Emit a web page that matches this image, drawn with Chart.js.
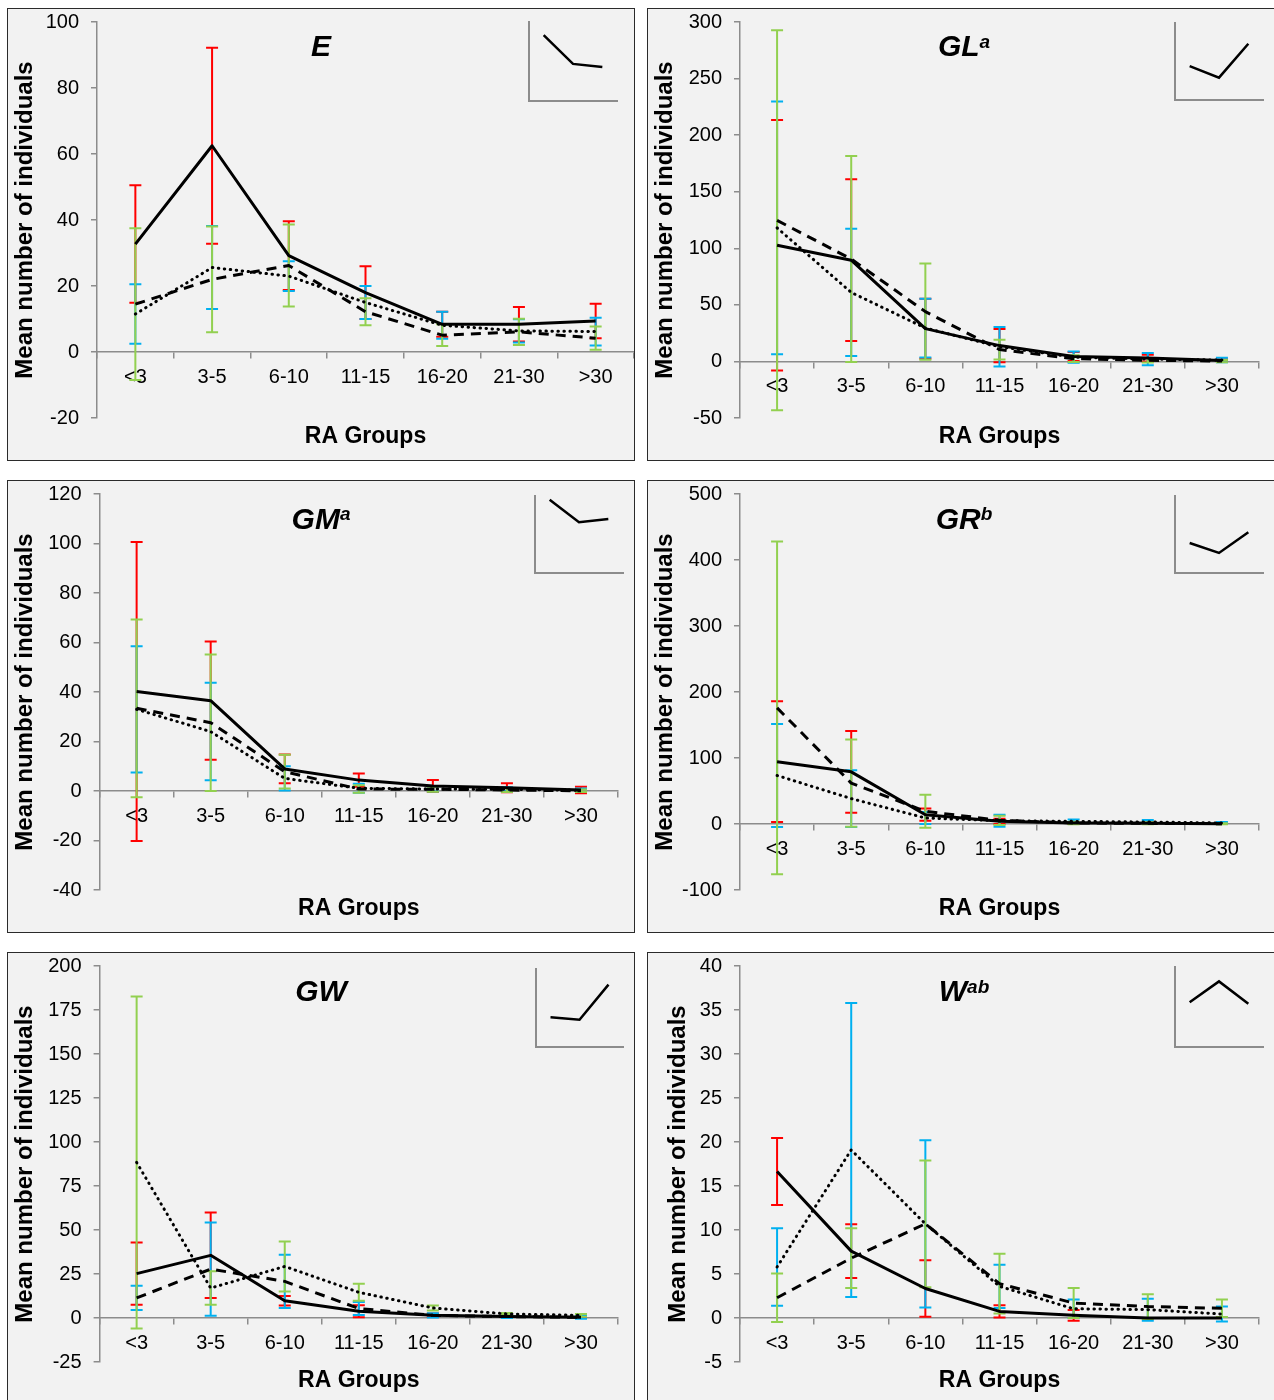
<!DOCTYPE html>
<html>
<head>
<meta charset="utf-8">
<title>Mean number of individuals by RA group</title>
<script src="https://cdn.jsdelivr.net/npm/chart.js@4.4.0/dist/chart.umd.min.js"></script>
<style>
  html, body { margin: 0; padding: 0; background: #fff; }
  body { width: 1274px; height: 1400px; overflow: hidden; position: relative; }
  .panel { position: absolute; box-sizing: border-box; border: 1px solid #2b2b2b; background: #f2f2f2; }
  .panel canvas { position: absolute; }
  .ttl { position: absolute; left: 0; width: 100%; text-align: center; color: #000; white-space: nowrap;
         font: italic bold 30px "Liberation Sans", Arial, sans-serif; line-height: 30px; }
  .ttl span { font-size: 19px; position: relative; top: -8.5px; }
</style>
</head>
<body>
<script>
const FONT = '"Liberation Sans", Arial, sans-serif';
const TICK_SIZE = 20;

const raGroups = ['<3', '3-5', '6-10', '11-15', '16-20', '21-30', '>30'];

// E
const eSolid = [32.7, 62.5, 29.2, 18.0, 8.4, 8.4, 9.4];
const eSolidErr = [17.8, 29.7, 10.4, 8.0, 3.8, 5.2, 5.2];
const eDashed = [14.5, 22.0, 26.2, 12.2, 5.1, 6.1, 4.2];
const eDashedErr = [23.0, 16.0, 12.4, 4.1, 3.3, 4.0, 3.5];
const eDotted = [11.5, 25.6, 23.0, 15.0, 8.1, 6.4, 6.2];
const eDottedErr = [9.0, 12.6, 4.5, 5.0, 4.1, 3.5, 4.2];
const eTicks = [-20, 100, 20];
const trendE = [0.835, 0.47, 0.43];

// GL
const glSolid = [102.7, 89.5, 29.0, 14.0, 4.4, 3.0, 0.9];
const glSolidErr = [110.7, 71.5, 26.5, 14.7, 4.0, 3.0, 1.0];
const glDashed = [124.7, 90.5, 44.0, 10.5, 2.4, 1.0, 0.3];
const glDashedErr = [167.9, 91.0, 42.5, 8.7, 3.0, 2.0, 1.0];
const glDotted = [118.0, 61.0, 29.5, 13.0, 3.8, 2.0, 1.2];
const glDottedErr = [111.7, 56.2, 26.0, 17.4, 5.0, 5.4, 2.0];
const glTicks = [-50, 300, 50];
const trendGL = [0.44, 0.29, 0.73];

// GM
const gmSolid = [40.2, 36.5, 8.9, 4.4, 2.0, 1.3, 0.4];
const gmSolidErr = [60.4, 23.9, 5.8, 2.7, 2.4, 1.8, 1.3];
const gmDashed = [33.4, 27.6, 7.8, 0.8, 0.7, 0.4, 0.1];
const gmDashedErr = [35.9, 27.6, 6.8, 1.5, 1.0, 0.8, 0.5];
const gmDotted = [33.0, 24.0, 5.1, 1.1, 0.8, 0.7, 0.3];
const gmDottedErr = [25.5, 19.7, 4.9, 1.8, 1.0, 0.8, 0.7];
const gmTicks = [-40, 120, 20];
const trendGM = [0.95, 0.66, 0.70];

// GR
const grSolid = [94.4, 79.0, 14.1, 4.0, 1.5, 1.0, 0.5];
const grSolidErr = [91.5, 62.0, 9.3, 4.0, 1.5, 1.0, 0.5];
const grDashed = [176.0, 62.0, 19.2, 5.6, 1.5, 1.0, 0.5];
const grDashedErr = [252.0, 66.0, 25.0, 7.0, 2.0, 1.5, 0.8];
const grDotted = [73.5, 38.5, 9.1, 5.0, 4.0, 3.0, 1.5];
const grDottedErr = [78.0, 43.0, 9.0, 9.0, 3.0, 3.0, 1.5];
const grTicks = [-100, 500, 100];
const trendGR = [0.39, 0.26, 0.53];

// GW
const gwSolid = [25.2, 35.6, 9.8, 3.8, 1.5, 0.8, 0.4];
const gwSolidErr = [17.7, 24.3, 2.7, 3.4, 1.0, 0.6, 0.4];
const gwDashed = [11.4, 27.8, 20.8, 5.4, 1.5, 0.8, 0.4];
const gwDashedErr = [6.9, 26.5, 15.1, 3.7, 1.2, 0.8, 0.8];
const gwDotted = [88.4, 17.0, 29.3, 14.6, 5.7, 2.3, 1.5];
const gwDottedErr = [94.3, 9.5, 14.2, 4.8, 1.4, 0.6, 0.8];
const gwTicks = [-25, 200, 25];
const trendGW = [0.38, 0.35, 0.80];

// W
const wSolid = [16.65, 7.6, 3.35, 0.75, 0.3, 0.0, 0.0];
const wSolidErr = [3.8, 3.05, 3.2, 0.7, 0.6, 0.0, 0.0];
const wDashed = [2.3, 6.8, 10.7, 3.9, 1.7, 1.3, 1.1];
const wDashedErr = [2.75, 3.4, 7.2, 3.4, 1.7, 1.4, 1.0];
const wDotted = [5.8, 19.1, 10.7, 3.6, 1.05, 0.95, 0.45];
const wDottedErr = [4.4, 16.7, 9.5, 2.45, 1.05, 1.25, 0.85];
const wTicks = [-5, 40, 5];
const trendW = [0.56, 0.82, 0.54];

const RED = '#ff0000';
const BLUE = '#00b0f0';
const GREEN = '#92d050';
const AXIS = '#8c8c8c';
const ERR_ORDER = [RED, BLUE, GREEN];

const lineStyles = {
  solid: { borderDash: [], borderCapStyle: 'butt' },
  dashed: { borderDash: [10, 7], borderCapStyle: 'butt' },
  dotted: { borderDash: [0.5, 5.5], borderCapStyle: 'round' },
};

function trio(solid, solidErr, dashed, dashedErr, dotted, dottedErr, dashedColor, dottedColor) {
  return [
    { values: solid, errors: solidErr, errColor: RED, style: 'solid' },
    { values: dashed, errors: dashedErr, errColor: dashedColor, style: 'dashed' },
    { values: dotted, errors: dottedErr, errColor: dottedColor, style: 'dotted' },
  ];
}

// box / plot / inset are [x0, y0, x1, y1] page coordinates
const panels = [
  { title: 'E', sup: '', box: [7, 8, 634, 460], plot: [97, 22, 634, 418], titleY: 45.8, xTitleY: 437, yTitleX: 25.5,
    ticks: eTicks, inset: [529, 22, 617, 101], trend: trendE,
    series: trio(eSolid, eSolidErr, eDashed, eDashedErr, eDotted, eDottedErr, GREEN, BLUE) },
  { title: 'GL', sup: 'a', box: [647, 8, 1280, 460], plot: [740, 22, 1259, 418], titleY: 46, xTitleY: 437, yTitleX: 665.7,
    ticks: glTicks, inset: [1175, 23, 1263, 100], trend: trendGL,
    series: trio(glSolid, glSolidErr, glDashed, glDashedErr, glDotted, glDottedErr, GREEN, BLUE) },
  { title: 'GM', sup: 'a', box: [7, 480, 634, 932], plot: [99.6, 494, 618, 890], titleY: 518.5, xTitleY: 909, yTitleX: 25.5,
    ticks: gmTicks, inset: [535, 496, 623, 573], trend: trendGM,
    series: trio(gmSolid, gmSolidErr, gmDashed, gmDashedErr, gmDotted, gmDottedErr, GREEN, BLUE) },
  { title: 'GR', sup: 'b', box: [647, 480, 1280, 932], plot: [740, 494, 1259, 890], titleY: 518.5, xTitleY: 909, yTitleX: 665.7,
    ticks: grTicks, inset: [1175, 496, 1263, 573], trend: trendGR,
    series: trio(grSolid, grSolidErr, grDashed, grDashedErr, grDotted, grDottedErr, GREEN, BLUE) },
  { title: 'GW', sup: '', box: [7, 952, 634, 1404], plot: [99.6, 966, 618, 1362], titleY: 991, xTitleY: 1381, yTitleX: 25.5,
    ticks: gwTicks, inset: [535.5, 969, 623, 1047], trend: trendGW,
    series: trio(gwSolid, gwSolidErr, gwDashed, gwDashedErr, gwDotted, gwDottedErr, BLUE, GREEN) },
  { title: 'W', sup: 'ab', box: [647, 952, 1280, 1404], plot: [740, 966, 1259, 1362], titleY: 991, xTitleY: 1381, yTitleX: 678,
    ticks: wTicks, inset: [1175, 967, 1263, 1047], trend: trendW,
    series: trio(wSolid, wSolidErr, wDashed, wDashedErr, wDotted, wDottedErr, GREEN, BLUE) },
];

// vertical error bars with caps, drawn under the lines
const errorBars = {
  id: 'errorBars',
  beforeDatasetsDraw(chart) {
    const { ctx } = chart;
    const x = chart.scales.x;
    const y = chart.scales.y;
    const sets = chart.data.datasets.slice()
      .sort((a, b) => ERR_ORDER.indexOf(a.errColor) - ERR_ORDER.indexOf(b.errColor));
    ctx.save();
    ctx.lineWidth = 2;
    sets.forEach((ds) => {
      ctx.strokeStyle = ds.errColor;
      ds.data.forEach((v, i) => {
        const e = ds.errors[i];
        if (!e) return;
        const px = x.getPixelForValue(i);
        const top = y.getPixelForValue(v + e);
        const bot = y.getPixelForValue(v - e);
        ctx.beginPath();
        ctx.moveTo(px, top);
        ctx.lineTo(px, bot);
        ctx.moveTo(px - 6, top);
        ctx.lineTo(px + 6, top);
        ctx.moveTo(px - 6, bot);
        ctx.lineTo(px + 6, bot);
        ctx.stroke();
      });
    });
    ctx.restore();
  },
};

function makeCanvas(parent, left, top, w, h) {
  const c = document.createElement('canvas');
  c.width = w;
  c.height = h;
  c.style.left = left + 'px';
  c.style.top = top + 'px';
  c.style.width = w + 'px';
  c.style.height = h + 'px';
  parent.appendChild(c);
  return c;
}

function buildPanel(p) {
  const [bx0, by0, bx1, by1] = p.box;
  const w = bx1 - bx0 + 1;
  const h = by1 - by0 + 1;
  const el = document.createElement('div');
  el.className = 'panel';
  el.style.left = bx0 + 'px';
  el.style.top = by0 + 'px';
  el.style.width = w + 'px';
  el.style.height = h + 'px';
  document.body.appendChild(el);

  const ox = bx0 + 1;
  const oy = by0 + 1;
  const cw = w - 2;
  const ch = h - 2;
  const left = p.plot[0] - ox;
  const top = p.plot[1] - oy;
  const right = p.plot[2] - ox;
  const bottom = p.plot[3] - oy;
  const xTitleSize = 23;
  const xTitleLine = xTitleSize * 1.2;
  const xTitlePadTop = (p.xTitleY - oy) - bottom - xTitleLine / 2;
  const xTitlePadBottom = ch - bottom - xTitleLine - xTitlePadTop;

  const canvas = makeCanvas(el, 0, 0, cw, ch);
  new Chart(canvas, {
    type: 'line',
    data: {
      labels: raGroups,
      datasets: p.series.map((s) => ({
        data: s.values,
        errors: s.errors,
        errColor: s.errColor,
        borderColor: '#000',
        borderWidth: 3,
        borderJoinStyle: 'round',
        ...lineStyles[s.style],
        pointRadius: 0,
        pointHoverRadius: 0,
        tension: 0,
        fill: false,
      })),
    },
    options: {
      responsive: false,
      animation: false,
      devicePixelRatio: 1,
      events: [],
      layout: { padding: { left: 0, top: top, right: cw - right, bottom: 0 } },
      plugins: {
        legend: { display: false },
        tooltip: { enabled: false },
        title: {
          display: true,
          position: 'bottom',
          fullSize: false,
          text: 'RA Groups',
          color: '#000',
          font: { family: FONT, size: xTitleSize, weight: 'bold', lineHeight: 1.2 },
          padding: { top: xTitlePadTop, bottom: xTitlePadBottom },
        },
      },
      scales: {
        x: {
          type: 'category',
          position: { y: 0 },
          offset: true,
          grid: { offset: true, drawOnChartArea: false, drawTicks: true, tickLength: 6, color: AXIS, lineWidth: 1.5 },
          border: { display: true, color: AXIS, width: 1.5 },
          ticks: { color: '#000', font: { family: FONT, size: TICK_SIZE }, padding: 7, autoSkip: false, maxRotation: 0 },
        },
        y: {
          min: p.ticks[0],
          max: p.ticks[1],
          ticks: { stepSize: p.ticks[2], color: '#000', font: { family: FONT, size: TICK_SIZE }, padding: 12 },
          grid: { drawOnChartArea: false, drawTicks: true, tickLength: 6, color: AXIS, lineWidth: 1.5 },
          border: { display: true, color: AXIS, width: 1.5 },
          title: {
            display: true,
            text: 'Mean number of individuals',
            color: '#000',
            font: { family: FONT, size: 24, weight: 'bold', lineHeight: 1.2 },
            padding: { top: (p.yTitleX - ox) - 14.4, bottom: 0 },
          },
          // fixed axis column; the end labels may hang over the plot edges
          afterFit: (scale) => {
            scale.width = left;
            scale.paddingTop = 0;
            scale.paddingBottom = 0;
          },
        },
      },
    },
    plugins: [errorBars],
  });

  // small trend sketch in the top right corner
  const [ix0, iy0, ix1, iy1] = p.inset;
  const m = 3;
  const inset = makeCanvas(el, ix0 - ox - m, iy0 - oy - m, ix1 - ix0 + 2 * m, iy1 - iy0 + 2 * m);
  new Chart(inset, {
    type: 'line',
    data: {
      labels: ['', '', ''],
      datasets: [{ data: p.trend, borderColor: '#000', borderWidth: 2.5, pointRadius: 0, tension: 0, fill: false }],
    },
    options: {
      responsive: false,
      animation: false,
      devicePixelRatio: 1,
      events: [],
      layout: { padding: m },
      plugins: { legend: { display: false }, tooltip: { enabled: false } },
      scales: {
        x: {
          offset: true,
          ticks: { display: false },
          grid: { display: false },
          border: { display: true, color: AXIS, width: 2 },
          afterFit: (s) => { s.height = 0; },
        },
        y: {
          min: 0,
          max: 1,
          ticks: { display: false },
          grid: { display: false },
          border: { display: true, color: AXIS, width: 2 },
          afterFit: (s) => { s.width = 0; },
        },
      },
    },
  });

  const ttl = document.createElement('div');
  ttl.className = 'ttl';
  ttl.style.top = (p.titleY - oy - 14.65) + 'px';
  ttl.textContent = p.title;
  if (p.sup) {
    const sup = document.createElement('span');
    sup.textContent = p.sup;
    ttl.appendChild(sup);
  }
  el.appendChild(ttl);
}

panels.forEach(buildPanel);
</script>
</body>
</html>
